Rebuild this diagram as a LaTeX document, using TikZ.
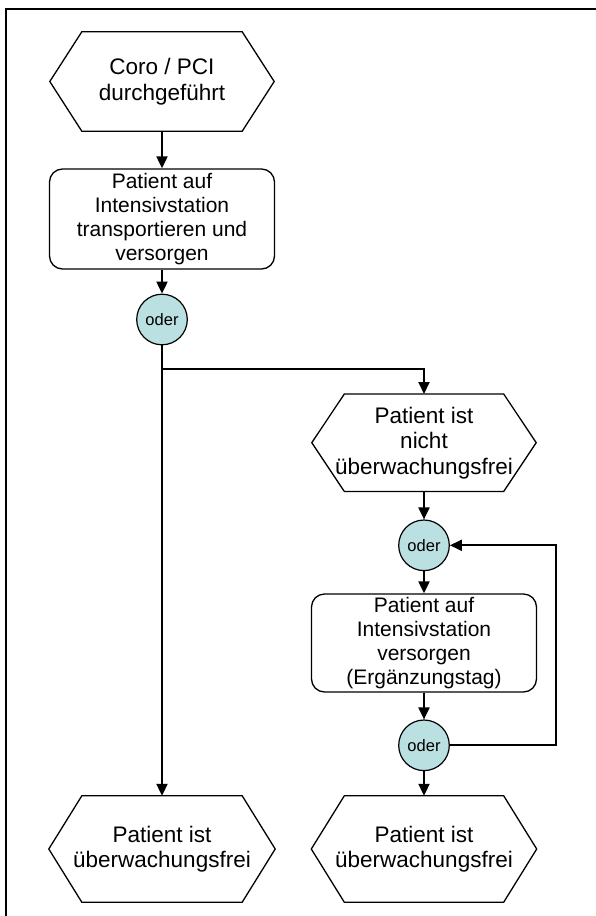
\documentclass[tikz,border=0pt]{standalone}
\usepackage{fontspec}
\setmainfont{Liberation Sans}
\usetikzlibrary{arrows.meta}
\definecolor{oderfill}{RGB}{186,224,226}
\begin{document}
\begin{tikzpicture}[x=1pt,y=-1pt,
  eventtext/.style={draw=none, inner sep=0pt, align=center, font=\fontsize{22.5}{25.5}\selectfont},
  hexline/.style={line width=1.3pt, line join=miter},
  procbox/.style={draw, line width=1.3pt, rounded corners=13pt, inner sep=0pt, align=center,
    minimum width=225pt, font=\fontsize{21}{23.8}\selectfont},
  odernode/.style={circle, draw, line width=1.2pt, fill=oderfill, minimum size=50.6pt,
    inner sep=0pt, font=\fontsize{16.5}{18}\selectfont},
  conn/.style={line width=2pt, -{Triangle[length=12pt,width=11pt]}},
]
\useasboundingbox (0,0) rectangle (596,916);
\fill[white] (0,0) rectangle (596,916);
% page frame (top and left edges)
\draw[line width=2pt] (6,916) -- (6,9) -- (596,9);

% events, functions and connectors
\node[eventtext, minimum width=224pt, minimum height=99pt] (h1) at (162,81.5) {Coro / PCI\\durchgeführt};
\node[procbox, minimum height=100pt] (b1) at (162,219) {Patient auf\\Intensivstation\\transportieren und\\versorgen};
\node[odernode] (c1) at (162,319.5) {oder};
\node[eventtext, minimum width=224pt, minimum height=97pt] (h2) at (424,442.7) {Patient ist\\nicht\\überwachungsfrei};
\node[odernode] (c2) at (424,545.3) {oder};
\node[procbox, minimum height=98pt] (b2) at (424,643) {Patient auf\\Intensivstation\\versorgen\\(Ergänzungstag)};
\node[odernode] (c3) at (424,745.3) {oder};
\node[eventtext, minimum width=226pt, minimum height=106pt] (h3) at (162,849) {Patient ist\\überwachungsfrei};
\node[eventtext, minimum width=225pt, minimum height=106pt] (h4) at (424,849) {Patient ist\\überwachungsfrei};

% hexagon outlines of the event nodes
\foreach \n/\d in {h1/32,h2/32.5,h3/33,h4/33}
  \draw[hexline] ([xshift=\d pt]\n.north west) -- ([xshift=-\d pt]\n.north east) -- (\n.east)
    -- ([xshift=-\d pt]\n.south east) -- ([xshift=\d pt]\n.south west) -- (\n.west) -- cycle;

% control flow
\draw[conn] (h1.south) -- (b1.north);
\draw[conn] (b1.south) -- (c1.north);
\draw[conn] (c1.south) -- (h3.north);
\coordinate (split) at (162,369);
\draw[conn] (split) -| (h2.north);
\draw[conn] (h2.south) -- (c2.north);
\draw[conn] (c2.south) -- (b2.north);
\draw[conn] (b2.south) -- (c3.north);
\draw[conn] (c3.south) -- (h4.north);
\coordinate (loop) at (556,0);
\draw[conn] (c3.east) -- (c3.east -| loop) -- (c2.east -| loop) -- (c2.east);
\end{tikzpicture}
\end{document}
